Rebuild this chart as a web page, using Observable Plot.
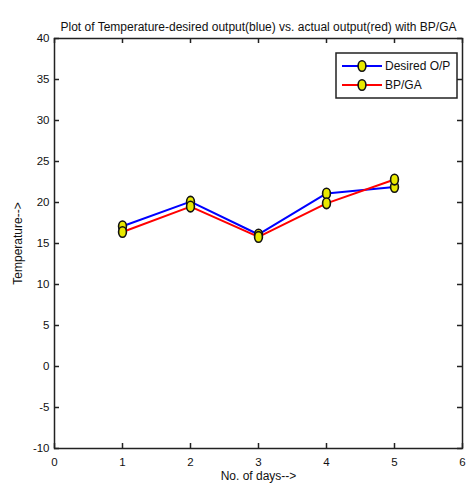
<!DOCTYPE html>
<html><head><meta charset="utf-8">
<script src="https://cdn.jsdelivr.net/npm/d3@7"></script>
<script src="https://cdn.jsdelivr.net/npm/@observablehq/plot@0.6"></script>
<style>body{margin:0;background:#fff;font-family:"Liberation Sans",Arial,sans-serif}</style>
</head><body><div id="chart"></div>
<script>
const days = [1, 2, 3, 4, 5];
const desiredOP = [17.1, 20.1, 16.1, 21.1, 21.9];
const bpga = [16.4, 19.5, 15.8, 19.9, 22.8];
const xTicks = [0, 1, 2, 3, 4, 5, 6];
const yTicks = [-10, -5, 0, 5, 10, 15, 20, 25, 30, 35, 40];
const seriesNames = ["Desired O/P", "BP/GA"];
const seriesColors = ["#0000ff", "#ff0000"];
const titleText = "Plot of Temperature-desired output(blue) vs. actual output(red) with BP/GA";

const rows = [];
days.forEach((d, i) => {
  rows.push({day: d, temp: desiredOP[i], series: seriesNames[0]});
  rows.push({day: d, temp: bpga[i], series: seriesNames[1]});
});

// vertically elongated marker, like the stretched MATLAB circles
const ellipsePath = {draw(ctx, size) {
  const rx = Math.sqrt(size / Math.PI) * 0.85, ry = Math.sqrt(size / Math.PI) * 1.15, k = 0.5523;
  ctx.moveTo(rx, 0);
  ctx.bezierCurveTo(rx, ry * k, rx * k, ry, 0, ry);
  ctx.bezierCurveTo(-rx * k, ry, -rx, ry * k, -rx, 0);
  ctx.bezierCurveTo(-rx, -ry * k, -rx * k, -ry, 0, -ry);
  ctx.bezierCurveTo(rx * k, -ry, rx, -ry * k, rx, 0);
  ctx.closePath();
}};

const W = 466, H = 487, mL = 54, mR = 4, mT = 38, mB = 39;
const fw = W - mL - mR, fh = H - mT - mB, tk = 5;
const fmt = d => String(d);
const chart = Plot.plot({
  width: W, height: H,
  marginLeft: mL, marginRight: mR, marginTop: mT, marginBottom: mB,
  style: {fontFamily: "Liberation Sans, Arial, sans-serif", fontSize: "11.5px", color: "#111"},
  x: {domain: [0, 6], label: null},
  y: {domain: [-10, 40], label: null},
  marks: [
    Plot.ruleX(xTicks, {x: d => d, insetTop: fh - tk, stroke: "#222", strokeWidth: 1.5}),
    Plot.ruleX(xTicks, {x: d => d, insetBottom: fh - tk, stroke: "#222", strokeWidth: 1.5}),
    Plot.ruleY(yTicks, {y: d => d, insetRight: fw - tk, stroke: "#222", strokeWidth: 1.5}),
    Plot.ruleY(yTicks, {y: d => d, insetLeft: fw - tk, stroke: "#222", strokeWidth: 1.5}),
    Plot.frame({stroke: "#222", strokeWidth: 1.5}),
    Plot.axisX({anchor: "bottom", ticks: xTicks, tickSize: 0, tickPadding: 9, tickFormat: fmt, label: null}),
    Plot.axisY({anchor: "left", ticks: yTicks, tickSize: 0, tickPadding: 5, tickFormat: fmt, label: null}),
    Plot.line(rows, {x: "day", y: "temp", z: "series", stroke: "series", strokeWidth: 2}),
    Plot.dot(rows, {x: "day", y: "temp", r: 4.6, symbol: ellipsePath, fill: "#e8e800", stroke: "#111", strokeWidth: 1.6}),
    Plot.text([titleText], {frameAnchor: "top", dy: -16, fontSize: 12, text: d => d}),
    Plot.text(["No. of days-->"], {frameAnchor: "bottom", dy: 31, fontSize: 12, text: d => d}),
    Plot.text(["Temperature-->"], {frameAnchor: "left", textAnchor: "middle", dx: -36, rotate: -90, fontSize: 12, text: d => d})
  ],
  color: {domain: seriesNames, range: seriesColors}
});

// legend box (not a data mark)
const svg = d3.select(chart);
const lg = svg.append("g").attr("font-family", "Liberation Sans, Arial, sans-serif")
  .attr("font-size", 12).attr("text-anchor", "start");
lg.append("rect").attr("x", 336).attr("y", 53).attr("width", 121).attr("height", 45)
  .attr("fill", "#fff").attr("stroke", "#222").attr("stroke-width", 1.5);
const sym = d3.symbol().type(ellipsePath).size(Math.PI * 4.6 * 4.6);
seriesNames.forEach((name, i) => {
  const y = 66 + i * 19;
  lg.append("line").attr("x1", 342).attr("x2", 382).attr("y1", y).attr("y2", y)
    .attr("stroke", seriesColors[i]).attr("stroke-width", 2);
  lg.append("path").attr("transform", `translate(362,${y})`).attr("d", sym())
    .attr("fill", "#e8e800").attr("stroke", "#111").attr("stroke-width", 1.6);
  lg.append("text").attr("x", 385).attr("y", y).attr("dy", "0.35em").attr("fill", "#111").text(name);
});

document.getElementById("chart").appendChild(chart);
</script></body></html>
